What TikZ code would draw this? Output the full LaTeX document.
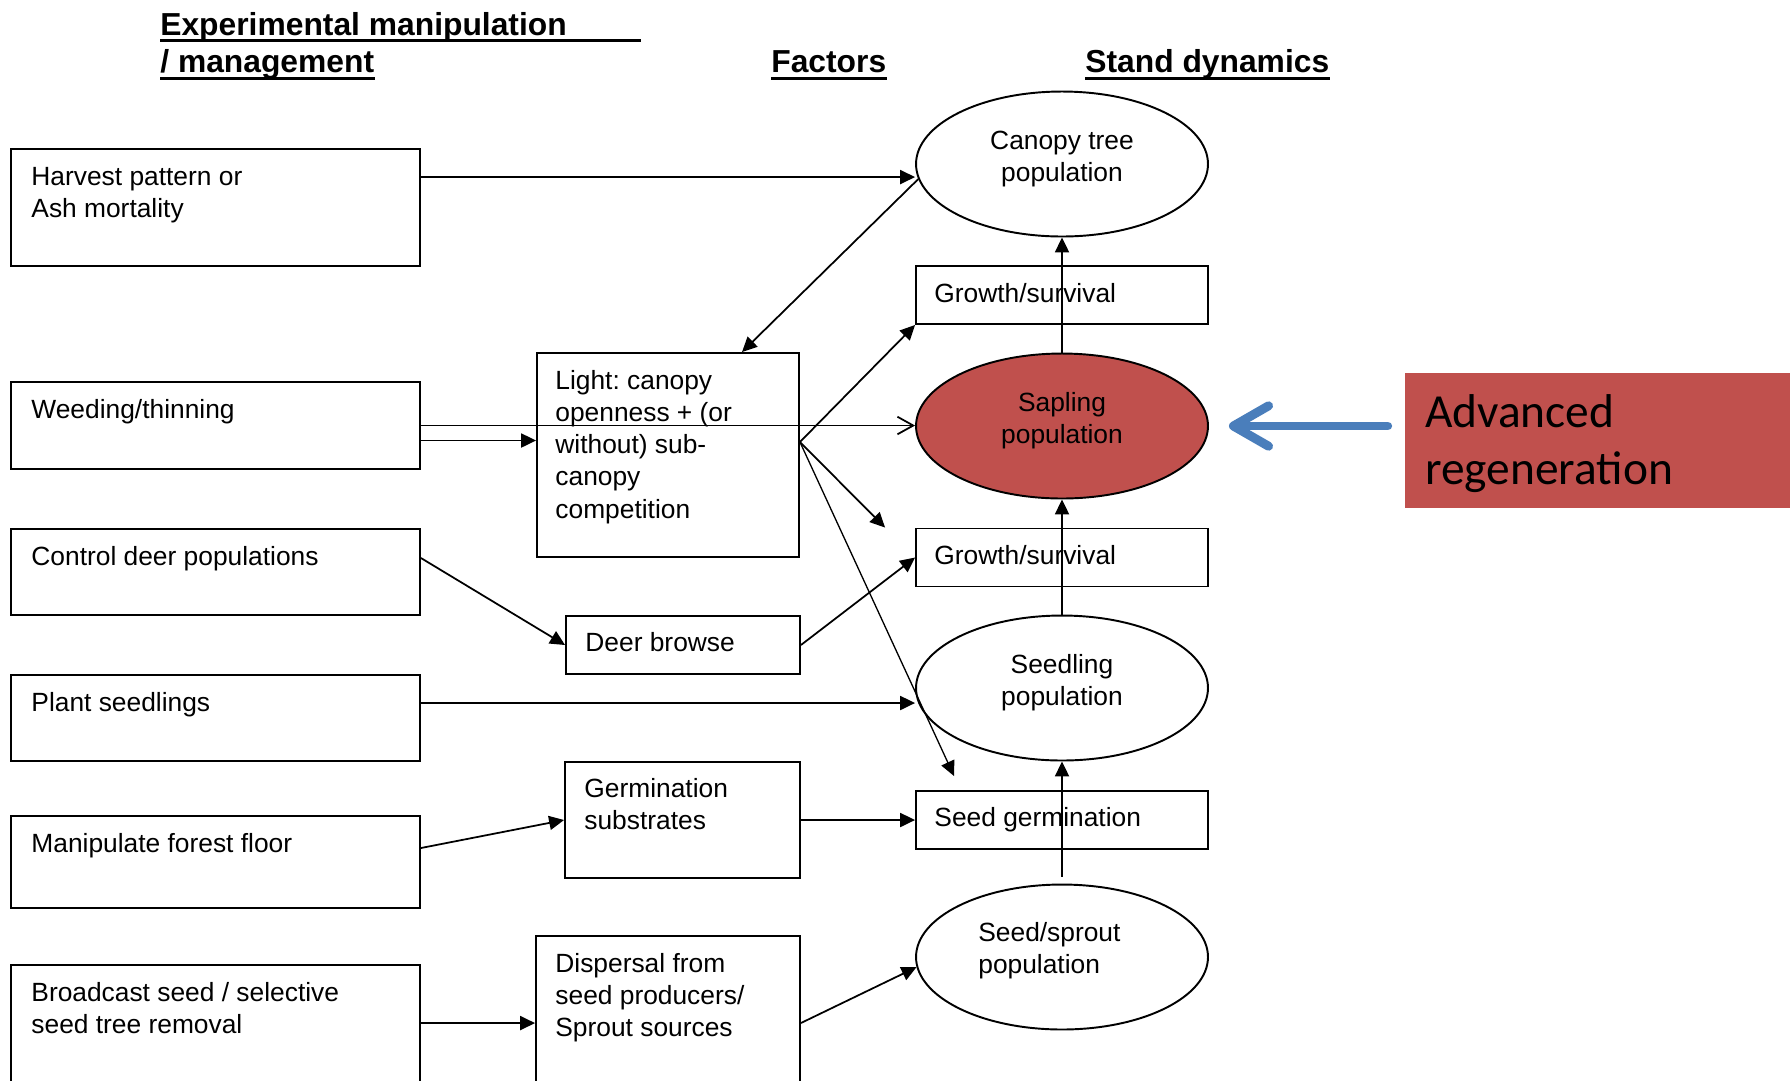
\documentclass[tikz,border=0pt]{standalone}
\usepackage{fontspec}
\setmainfont{Liberation Sans}
\newfontfamily\calibfont{Carlito}
\usetikzlibrary{arrows.meta,shapes.geometric}
\definecolor{sapred}{RGB}{192,80,77}
\definecolor{advblue}{RGB}{74,126,187}
\newcommand\tb[2]{\parbox[t]{#1}{\raggedright #2}}
\newcommand\cb[2]{\parbox[t]{#1}{\centering #2}}
\frenchspacing
\begin{document}
\begin{tikzpicture}[x=0.02cm,y=-0.02cm,
  every node/.style={inner sep=0pt},
  body/.style={font=\fontsize{15pt}{18.35pt}\selectfont},
  box/.style={draw, line width=1.1pt, rectangle, inner sep=0pt},
  ell/.style={draw, line width=1.1pt, ellipse, inner sep=0pt, minimum width=5.84cm, minimum height=2.9cm},
  tx/.style={body, anchor=base west, inner sep=0pt},
  ctx/.style={body, anchor=base, inner sep=0pt},
  title/.style={font=\bfseries\fontsize{18.1pt}{21pt}\selectfont, anchor=base west, inner sep=0pt},
  ul/.style={line width=1.7pt},
  arr/.style={line width=1pt, -{Triangle[length=8.5pt,width=8pt]}},
  thinarr/.style={line width=0.75pt, -{Triangle[length=8.5pt,width=8pt]}},
  openarr/.style={line width=1pt, -{Straight Barb[length=9pt,width=10pt]}},
  bluearr/.style={draw=advblue, line width=5.1pt, line cap=round, -{Straight Barb[length=20pt,width=23pt,line cap=round,line join=round]}},
]
\clip (0,0) rectangle (1790,1080);
\fill[white] (0,0) rectangle (1790,1080);

% titles
\node[title] (t1) at (160,35) {Experimental manipulation};
\node[title] (t2) at (160,72) {/ management};
\node[title] (t3) at (771,72) {Factors};
\node[title] (t4) at (1085,72) {Stand dynamics};
\draw[ul] ([shift={(0,5)}]t1.base west) -- ++(481,0);
\draw[ul] ([shift={(0,6)}]t2.base west) -- ([shift={(0,6)}]t2.base east);
\draw[ul] ([shift={(0,6)}]t3.base west) -- ([shift={(0,6)}]t3.base east);
\draw[ul] ([shift={(0,6)}]t4.base west) -- ([shift={(0,6)}]t4.base east);

% left column
\node[box, minimum width=8.18cm, minimum height=2.34cm] (harvest) at (215.5,207.5) {};
\node[tx] (harvestt) at ([shift={(21,37)}]harvest.north west) {\tb{7.3cm}{Harvest pattern or\\Ash mortality}};
\node[box, minimum width=8.18cm, minimum height=1.74cm] (weeding) at (215.5,425.5) {};
\node[tx] (weedingt) at ([shift={(21,37)}]weeding.north west) {\tb{7.3cm}{Weeding/thinning}};
\node[box, minimum width=8.18cm, minimum height=1.72cm] (control) at (215.5,572) {};
\node[tx] (controlt) at ([shift={(21,37)}]control.north west) {\tb{7.3cm}{Control deer populations}};
\node[box, minimum width=8.18cm, minimum height=1.72cm] (plant) at (215.5,718) {};
\node[tx] (plantt) at ([shift={(21,37)}]plant.north west) {\tb{7.3cm}{Plant seedlings}};
\node[box, minimum width=8.18cm, minimum height=1.84cm] (manip) at (215.5,862) {};
\node[tx] (manipt) at ([shift={(21,37)}]manip.north west) {\tb{7.3cm}{Manipulate forest floor}};
\node[box, minimum width=8.18cm, minimum height=2.9cm] (broadcast) at (215.5,1037.5) {};
\node[tx] (broadcastt) at ([shift={(21,37)}]broadcast.north west) {\tb{7.3cm}{Broadcast seed / selective\\seed tree removal}};

% middle column
\node[box, minimum width=5.24cm, minimum height=4.08cm] (light) at (668,455) {};
\node[tx] (lightt) at ([shift={(19,37)}]light.north west) {\tb{4.5cm}{Light: canopy\\openness + (or\\without) sub-\\canopy\\competition}};
\node[box, minimum width=4.68cm, minimum height=1.16cm] (deer) at (683,645) {};
\node[tx] (deert) at ([shift={(20,6)}]deer.west) {Deer browse};
\node[box, minimum width=4.70cm, minimum height=2.32cm] (germ) at (682.5,820) {};
\node[tx] (germt) at ([shift={(20,36)}]germ.north west) {\tb{4.2cm}{Germination\\substrates}};
\node[box, minimum width=5.28cm, minimum height=3.48cm] (disp) at (668,1023) {};
\node[tx] (dispt) at ([shift={(20,37)}]disp.north west) {\tb{4.5cm}{Dispersal from\\seed producers/\\Sprout sources}};

% right column
\node[ell] (canopy) at (1062,164) {};
\node[ctx] (canopyt) at ([shift={(0,-15)}]canopy.center) {\cb{5cm}{Canopy tree\\population}};
\node[box, minimum width=5.84cm, minimum height=1.16cm] (g1) at (1062,295) {};
\node[tx] (g1t) at ([shift={(19,7)}]g1.west) {Growth/survival};
\node[ell, fill=sapred] (sapling) at (1062,426) {};
\node[ctx] (saplingt) at ([shift={(0,-15)}]sapling.center) {\cb{5cm}{Sapling\\population}};
\node[box, minimum width=5.84cm, minimum height=1.16cm] (g2) at (1062,557.5) {};
\node[tx] (g2t) at ([shift={(19,7)}]g2.west) {Growth/survival};
\node[ell] (seedling) at (1062,688) {};
\node[ctx] (seedlingt) at ([shift={(0,-15)}]seedling.center) {\cb{5cm}{Seedling\\population}};
\node[box, minimum width=5.84cm, minimum height=1.16cm] (sg) at (1062,820) {};
\node[tx] (sgt) at ([shift={(19,6)}]sg.west) {Seed germination};
\node[ell] (sprout) at (1062,957) {};
\node[tx] (sproutt) at ([shift={(-84,-16)}]sprout.center) {\tb{4cm}{Seed/sprout\\population}};

% advanced regeneration
\node[fill=sapred, minimum width=7.7cm, minimum height=2.7cm] (adv) at (1597.5,440.5) {};
\node[anchor=base west, font=\calibfont\fontsize{27pt}{32.6pt}\selectfont] (advt) at ([shift={(20,55)}]adv.north west) {\parbox[t]{7cm}{Advanced\\regeneration}};

% connectors
\coordinate (h1) at ([shift={(0,29)}]harvest.north east);
\draw[arr] (h1) -- (h1 -| canopy.west);
\draw[arr] (canopy.186) -- ([shift={(74,0)}]light.north);
\draw[openarr] (weeding.east) -- (weeding.east -| sapling.west);
\coordinate (w2) at ([shift={(0,15)}]weeding.east);
\draw[arr] (w2) -- (w2 -| light.west);
\coordinate (lv) at ([shift={(0,-13)}]light.east);
\draw[arr] (lv) -- (g1.south west);
\coordinate (free) at ([shift={(-30,0)}]g2.north west);
\draw[arr] (lv) -- (free);
\coordinate (sgtip) at ([shift={(39,-14)}]sg.north west);
\draw[thinarr] (lv) -- (sgtip);
\coordinate (c1) at ([shift={(0,-14)}]control.east);
\draw[arr] (c1) -- (deer.west);
\draw[arr] (deer.east) -- (g2.west);
\coordinate (p1) at ([shift={(0,-15)}]plant.east);
\draw[arr] (p1) -- (p1 -| seedling.west);
\coordinate (m1) at ([shift={(0,-14)}]manip.east);
\draw[arr] (m1) -- (germ.west);
\draw[arr] (germ.east) -- (sg.west);
\coordinate (b1) at ([shift={(0,59)}]broadcast.north east);
\draw[arr] (b1) -- (b1 -| disp.west);
\draw[arr] (disp.east) -- (sprout.184);
\draw[arr] ([shift={(0,-7)}]sprout.north) -- (seedling.south);
\draw[arr] (seedling.north) -- (sapling.south);
\draw[arr] (sapling.north) -- (canopy.south);
\draw[bluearr] ([shift={(-17,-14.5)}]adv.west) -- ([shift={(20,0)}]sapling.east);
\end{tikzpicture}
\end{document}
